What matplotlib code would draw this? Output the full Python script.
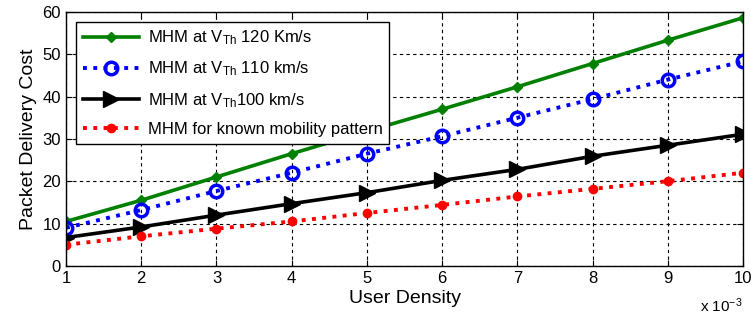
import numpy as np
import matplotlib
matplotlib.use("Agg")
import matplotlib.pyplot as plt

plt.rcParams["font.family"] = ["Liberation Sans", "DejaVu Sans"]
plt.rcParams["mathtext.fontset"] = "custom"
plt.rcParams["mathtext.rm"] = "Liberation Sans"
plt.rcParams["mathtext.it"] = "Liberation Sans"

# data
density = [1, 2, 3, 4, 5, 6, 7, 8, 9, 10]
cost_120 = [10.5, 15.5, 21.0, 26.5, 31.8, 37.0, 42.3, 47.8, 53.3, 58.6]
cost_110 = [9.0, 13.2, 17.7, 22.0, 26.5, 30.6, 35.0, 39.4, 44.0, 48.3]
cost_100 = [6.7, 9.2, 12.0, 14.7, 17.3, 20.2, 22.8, 25.9, 28.5, 31.1]
cost_known = [5.0, 7.0, 8.8, 10.5, 12.5, 14.4, 16.4, 18.2, 20.0, 22.0]

labels = [
    r"MHM at V$_{\mathrm{Th}}$ 120 Km/s",
    r"MHM at V$_{\mathrm{Th}}$ 110 km/s",
    r"MHM at V$_{\mathrm{Th}}$100 km/s",
    "MHM for known mobility pattern",
]

fig = plt.figure(figsize=(7.54, 3.2), dpi=100)
ax = fig.add_axes([0.0875, 0.169, 0.898, 0.794])

ax.plot(density, cost_120, "-", color="green", lw=2.6, marker="D", ms=5,
        label=labels[0])
ax.plot(density, cost_110, ":", color="blue", lw=2.8, marker="o", ms=9,
        mfc="none", mew=2.5, label=labels[1])
ax.plot(density, cost_100, "-", color="black", lw=2.6, marker=">", ms=11,
        label=labels[2])
ax.plot(density, cost_known, ":", color="red", lw=2.8, marker="o", ms=6,
        label=labels[3])

ax.set_xlim(1, 10)
ax.set_ylim(0, 60)
ax.set_xticks(density)
ax.set_yticks(np.arange(0, 61, 10))
ax.grid(True, color="black", ls=(0, (3, 3)), lw=0.8)
ax.tick_params(direction="in", top=True, right=True, labelsize=12, length=4)
for s in ax.spines.values():
    s.set_linewidth(1.0)

ax.set_xlabel("User Density", fontsize=14, labelpad=3)
ax.set_ylabel("Packet Delivery Cost", fontsize=14, labelpad=4)
fig.text(0.985, 0.025, r"x 10$^{-3}$", fontsize=11, ha="right")

leg = ax.legend(loc="upper left", fontsize=12, frameon=True, fancybox=False,
                edgecolor="black", framealpha=1, handlelength=3.4,
                handletextpad=0.5, borderaxespad=0.6, labelspacing=0.75)
leg.get_frame().set_linewidth(1.0)

fig.savefig("out.png", dpi=100)
